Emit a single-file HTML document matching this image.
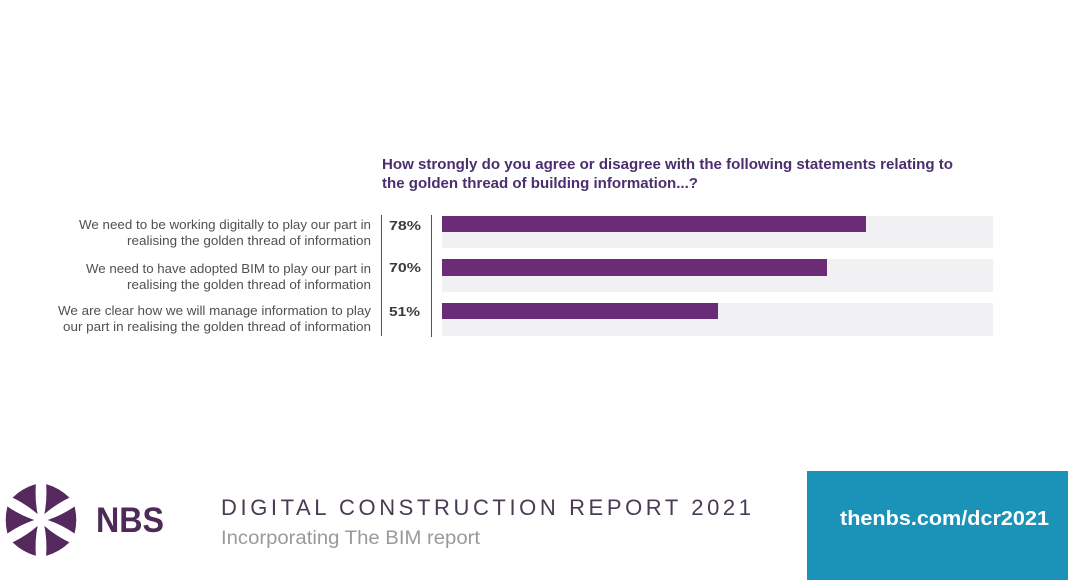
<!DOCTYPE html>
<html>
<head>
<meta charset="utf-8">
<style>
  html, body { margin: 0; padding: 0; background: #ffffff; }
  body { width: 1068px; height: 580px; overflow: hidden; }
  svg { display: block; }
  text { font-family: "Liberation Sans", sans-serif; }
</style>
</head>
<body>
<svg width="1068" height="580" viewBox="0 0 1068 580" xmlns="http://www.w3.org/2000/svg">
  <rect x="0" y="0" width="1068" height="580" fill="#ffffff"/>

  <!-- Title -->
  <text x="382" y="169" font-size="15" font-weight="bold" fill="#4b2e6e" textLength="571" lengthAdjust="spacingAndGlyphs">How strongly do you agree or disagree with the following statements relating to</text>
  <text x="382" y="188" font-size="15" font-weight="bold" fill="#4b2e6e" textLength="316" lengthAdjust="spacingAndGlyphs">the golden thread of building information...?</text>

  <!-- Labels -->
  <g font-size="13" fill="#505050">
    <text x="79" y="229" textLength="292" lengthAdjust="spacingAndGlyphs">We need to be working digitally to play our part in</text>
    <text x="127" y="245" textLength="244" lengthAdjust="spacingAndGlyphs">realising the golden thread of information</text>
    <text x="86" y="273" textLength="285" lengthAdjust="spacingAndGlyphs">We need to have adopted BIM to play our part in</text>
    <text x="127" y="289" textLength="244" lengthAdjust="spacingAndGlyphs">realising the golden thread of information</text>
    <text x="58" y="315" textLength="313" lengthAdjust="spacingAndGlyphs">We are clear how we will manage information to play</text>
    <text x="63" y="331" textLength="308" lengthAdjust="spacingAndGlyphs">our part in realising the golden thread of information</text>
  </g>

  <!-- separators -->
  <rect x="381" y="215" width="1" height="121" fill="#555555"/>
  <rect x="431" y="215" width="1" height="122" fill="#555555"/>

  <!-- Percentages -->
  <g font-size="13" font-weight="bold" fill="#3c3c3c">
    <text x="389" y="230" textLength="32" lengthAdjust="spacingAndGlyphs">78%</text>
    <text x="389" y="272" textLength="32" lengthAdjust="spacingAndGlyphs">70%</text>
    <text x="389" y="316" textLength="31" lengthAdjust="spacingAndGlyphs">51%</text>
  </g>

  <!-- Tracks -->
  <rect x="442" y="216" width="551" height="32" fill="#f1f0f3"/>
  <rect x="442" y="259" width="551" height="33" fill="#f1f0f3"/>
  <rect x="442" y="303" width="551" height="33" fill="#f1f0f3"/>

  <!-- Bars -->
  <rect x="442" y="216" width="424" height="16" fill="#6a2c77"/>
  <rect x="442" y="259" width="385" height="17" fill="#6a2c77"/>
  <rect x="442" y="303" width="276" height="16" fill="#6a2c77"/>

  <!-- Logo -->
  <g transform="translate(41,520) scale(1.12)" fill="#55295e">
    <path d="M 6,0 Q 18,-4 30,-12 Q 33,0 30,12 Q 18,4 6,0 Z"/>
    <path transform="rotate(60)" d="M 6,0 Q 18,-4 30,-12 Q 33,0 30,12 Q 18,4 6,0 Z"/>
    <path transform="rotate(120)" d="M 6,0 Q 18,-4 30,-12 Q 33,0 30,12 Q 18,4 6,0 Z"/>
    <path transform="rotate(180)" d="M 6,0 Q 18,-4 30,-12 Q 33,0 30,12 Q 18,4 6,0 Z"/>
    <path transform="rotate(240)" d="M 6,0 Q 18,-4 30,-12 Q 33,0 30,12 Q 18,4 6,0 Z"/>
    <path transform="rotate(300)" d="M 6,0 Q 18,-4 30,-12 Q 33,0 30,12 Q 18,4 6,0 Z"/>
  </g>

  <text x="96" y="532" font-size="35" font-weight="bold" fill="#4e2a58" textLength="68" lengthAdjust="spacingAndGlyphs">NBS</text>

  <text x="221" y="515" font-size="22" fill="#4a3a55" textLength="530" lengthAdjust="spacing">DIGITAL CONSTRUCTION REPORT 2021</text>
  <text x="221" y="544" font-size="19" fill="#9a9a9a" textLength="259" lengthAdjust="spacingAndGlyphs">Incorporating The BIM report</text>

  <!-- Blue box -->
  <rect x="807" y="471" width="261" height="109" fill="#1b93b8"/>
  <text x="840" y="525" font-size="20" font-weight="bold" fill="#ffffff" textLength="209" lengthAdjust="spacingAndGlyphs">thenbs.com/dcr2021</text>
</svg>
</body>
</html>
